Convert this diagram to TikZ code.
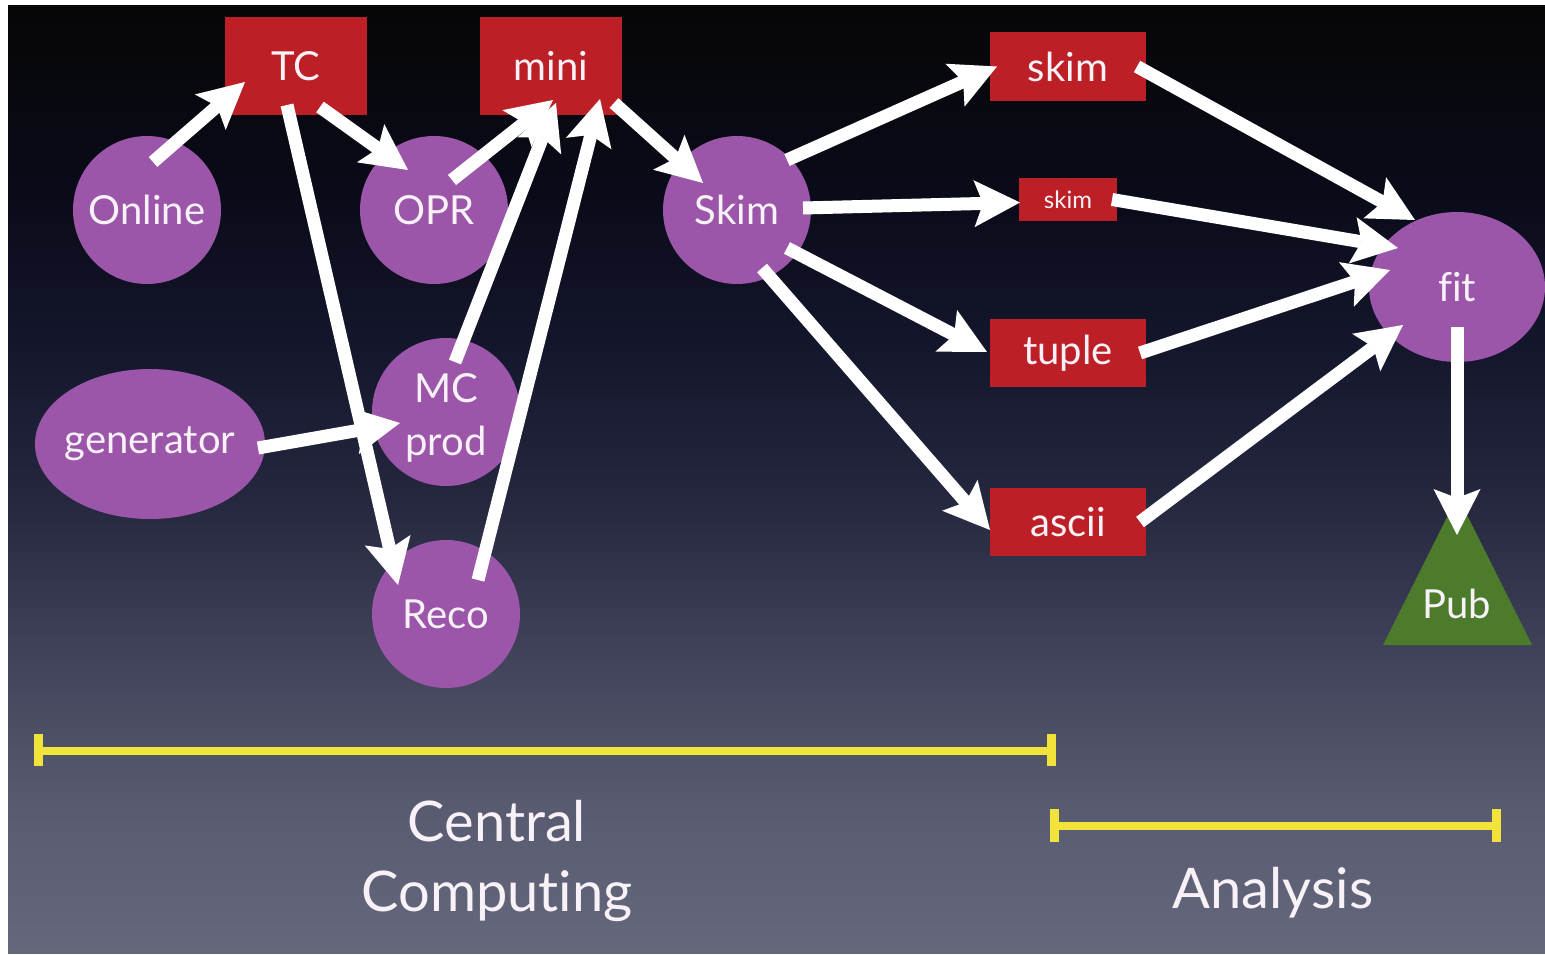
\documentclass[tikz,border=0pt]{standalone}
\usepackage{fontspec}
\setmainfont{Lato}[RawFeature={-liga;-clig;-calt;-dlig}]
\usetikzlibrary{arrows.meta,shapes.geometric}

\definecolor{nodepurple}{HTML}{9B56A9}
\definecolor{boxred}{HTML}{BC1F25}
\definecolor{pubgreen}{HTML}{4B7B2B}
\definecolor{baryellow}{HTML}{F1E33A}
\definecolor{labelwhite}{HTML}{F8F2F8}
\definecolor{bgA}{HTML}{65677B}
\definecolor{bgB}{HTML}{585A70}
\definecolor{bgC}{HTML}{404259}
\definecolor{bgD}{HTML}{25273F}
\definecolor{bgE}{HTML}{14162C}
\definecolor{bgF}{HTML}{0A0B19}
\definecolor{bgG}{HTML}{060607}

% slide background, dark at the top fading to slate grey at the bottom
\pgfdeclareverticalshading{slidebg}{100bp}{%
  color(0bp)=(bgA); color(25bp)=(bgA); color(33bp)=(bgB); color(41bp)=(bgC);
  color(49bp)=(bgD); color(57bp)=(bgE); color(65bp)=(bgF); color(75bp)=(bgG);
  color(100bp)=(bgG)}

\newcommand\lblfont{\fontsize{40}{50}\selectfont}
\newcommand\smallfont{\fontsize{24}{28}\selectfont}
\newcommand\bigfont{\fontsize{56}{70}\selectfont}

\begin{document}
\begin{tikzpicture}[x=1pt,y=-1pt,
  lbl/.style={text=labelwhite,font=\lblfont,inner sep=0pt},
  proc/.style={lbl,circle,fill=nodepurple,minimum size=148pt},
  oval/.style={lbl,ellipse,fill=nodepurple},
  store/.style={lbl,rectangle,fill=boxred},
  flow/.style={draw=white,line width=13pt,
    -{Stealth[length=46pt,width=47pt,inset=9pt,line width=0pt]}},
  span/.style={draw=baryellow,line width=8pt},
  spancap/.style={draw=baryellow,line width=9pt}]

\useasboundingbox (0,0) rectangle (1545,955);
\fill[white] (0,0) rectangle (1545,955);
\fill[shading=slidebg] (8,6) rectangle (1545,953);

% data stores
\node[store,minimum width=142pt,minimum height=98pt] (tc)   at (296,66)  {TC};
\node[store,minimum width=142pt,minimum height=98pt] (mini) at (551,66)  {mini};
\node[store,minimum width=156pt,minimum height=69pt] (skimA) at (1068,66.5) {skim};
\node[store,minimum width=98pt,minimum height=43pt,font=\smallfont] (skimB) at (1068,199.5) {skim};
\node[store,minimum width=156pt,minimum height=68pt] (tuple) at (1068,353) {tuple};
\node[store,minimum width=156pt,minimum height=68pt] (ascii) at (1068,522) {ascii};

% processing steps
\node[proc] (online) at (147,210) {Online};
\node[proc] (opr)    at (434,210) {OPR};
\node[proc] (skim)   at (737,210) {Skim};
\node[proc] (mc)     at (446,412) {};
\node[lbl,align=center,font=\fontsize{40}{53}\selectfont] (mctext)
  at ([shift={(0,6)}]mc.center) {MC\\prod};
\node[proc] (reco)   at (446,614) {Reco};
\node[oval,minimum width=230pt,minimum height=150pt,inner xsep=-4pt] (gen) at (150,444) {generator};
\node[oval,minimum width=176pt,minimum height=150pt] (fit) at (1457,287) {fit};

% publication
\fill[pubgreen] (1383,645) -- (1532,645) -- (1457.5,496) -- cycle;
\node[lbl] (pub) at (1457,604) {Pub};

% data flow
\draw[flow] ([shift={(6,-48)}]online.center) -- ([shift={(-51,16)}]tc.center);
\draw[flow] ([shift={(24,41)}]tc.center)     -- ([shift={(-26,-40)}]opr.center);
\draw[flow] ([shift={(-9,39)}]tc.center)     -- ([shift={(-48,-29)}]reco.center);
\draw[flow] ([shift={(18,-30)}]opr.center)   -- ([shift={(2,34)}]mini.center);
\draw[flow] ([shift={(9,-50)}]mc.center)     -- ([shift={(5,37)}]mini.center);
\draw[flow] ([shift={(32,-34)}]reco.center)  -- ([shift={(49,33)}]mini.center);
\draw[flow] ([shift={(108,4)}]gen.center)    -- ([shift={(-46,11)}]mc.center);
\draw[flow] ([shift={(63,37)}]mini.center)   -- ([shift={(-34,-27)}]skim.center);
\draw[flow] ([shift={(50,-50)}]skim.center)  -- ([shift={(-71,0)}]skimA.center);
\draw[flow] ([shift={(66,-2)}]skim.center)   -- ([shift={(-48,3)}]skimB.center);
\draw[flow] ([shift={(50,38)}]skim.center)   -- ([shift={(-81,-1)}]tuple.center);
\draw[flow] ([shift={(25,58)}]skim.center)   -- ([shift={(-78,8)}]ascii.center);
\draw[flow] ([shift={(69,0)}]skimA.center)   -- ([shift={(-42,-67)}]fit.center);
\draw[flow] ([shift={(44,0)}]skimB.center)   -- ([shift={(-59,-39)}]fit.center);
\draw[flow] ([shift={(72,0)}]tuple.center)   -- ([shift={(-67,-17)}]fit.center);
\draw[flow] ([shift={(72,0)}]ascii.center)   -- ([shift={(-54,38)}]fit.center);
\draw[flow] ([shift={(0,40)}]fit.center)     -- ([shift={(0,-69)}]pub.center);

% phase spans
\draw[span] (38,750.5) -- (1051,750.5);
\draw[spancap] (38,734) -- (38,766);
\draw[spancap] (1051,734) -- (1051,766);
\draw[span] (1054,826) -- (1496,826);
\draw[spancap] (1054,809) -- (1054,842);
\draw[spancap] (1496,809) -- (1496,842);

\node[lbl,font=\bigfont,align=center] (central) at (497,861) {Central\\Computing};
\node[lbl,font=\bigfont] (analysis) at (1273,893) {Analysis};
\end{tikzpicture}
\end{document}
